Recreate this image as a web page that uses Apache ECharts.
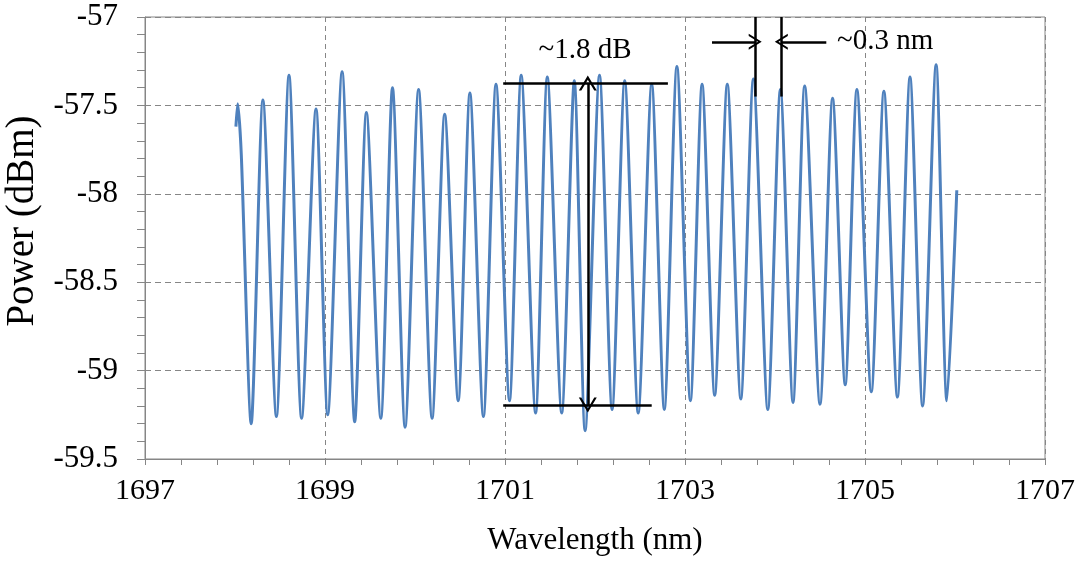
<!DOCTYPE html>
<html>
<head>
<meta charset="utf-8">
<script src="https://cdn.jsdelivr.net/npm/echarts@6/dist/echarts.min.js"></script>
<style>
html,body{margin:0;padding:0;background:#fff;}
#chart{width:1089px;height:562px;}
</style>
</head>
<body>
<div id="chart"></div>
<script>
// Wavelength (nm) of read-off points (peaks, troughs, a few shoulders)
const wavelength = [
  1698.01, 1698.03, 1698.07, 1698.18, 1698.31, 1698.46, 1698.60, 1698.74, 1698.90, 1699.03,
  1699.19, 1699.33, 1699.46, 1699.62, 1699.75, 1699.89, 1700.04, 1700.19, 1700.33, 1700.48,
  1700.61, 1700.76, 1700.90, 1701.05, 1701.18, 1701.34, 1701.47, 1701.63, 1701.77, 1701.89,
  1702.05, 1702.19, 1702.33, 1702.48, 1702.63, 1702.77, 1702.91, 1703.06, 1703.19, 1703.33,
  1703.47, 1703.62, 1703.76, 1703.92, 1704.06, 1704.20, 1704.33, 1704.50, 1704.64, 1704.78,
  1704.91, 1705.07, 1705.21, 1705.36, 1705.50, 1705.64, 1705.79, 1705.91, 1706.02
];
// Power (dBm)
const power = [
  -57.62, -57.49, -57.78, -59.30, -57.47, -59.26, -57.33, -59.27, -57.52, -59.25,
  -57.31, -59.29, -57.54, -59.27, -57.40, -59.32, -57.41, -59.27, -57.55, -59.17,
  -57.43, -59.26, -57.38, -59.17, -57.33, -59.24, -57.34, -59.24, -57.36, -59.34,
  -57.33, -59.22, -57.36, -59.24, -57.38, -59.22, -57.28, -59.17, -57.38, -59.14,
  -57.38, -59.16, -57.35, -59.22, -57.41, -59.18, -57.39, -59.19, -57.46, -59.08,
  -57.41, -59.12, -57.42, -59.15, -57.34, -59.20, -57.27, -59.17, -57.98
];
const xTicks = {min: 1697, max: 1707, interval: 2};
const yTicks = {min: -59.5, max: -57, interval: 0.5};

// Annotation values (data space)
const ampTop = -57.373, ampBottom = -59.195;
const ampLeft = 1700.98, ampTopRight = 1702.81, ampBottomRight = 1702.63, ampArrowX = 1701.92;
const ampText = '~1.8 dB', ampTextPos = [1701.89, -57.19];
const fsrLeftX = 1703.78, fsrRightX = 1704.07, fsrTop = -57.0, fsrBottom = -57.45;
const fsrArrowY = -57.14, fsrArrowLeftStart = 1703.30, fsrArrowRightStart = 1704.57;
const fsrText = '~0.3 nm', fsrTextPos = [1704.69, -57.14];

const FONT = '"Liberation Serif", "Times New Roman", serif';
const GRAY = '#868686';
const chevron = 'path://M0,10 L5,0 L10,10 L8.6,10 L5,2.8 L1.4,10 Z';

const chart = echarts.init(document.getElementById('chart'), null, {renderer: 'canvas'});
const seriesData = wavelength.map((w, i) => [w, power[i]]);

chart.setOption({
  animation: false,
  backgroundColor: '#ffffff',
  grid: {left: 145, right: 44, top: 17, bottom: 103, show: true, borderColor: GRAY, borderWidth: 1,
         containLabel: false, outerBoundsMode: 'none'},
  xAxis: {
    type: 'value', min: xTicks.min, max: xTicks.max, interval: xTicks.interval,
    name: 'Wavelength (nm)', nameLocation: 'middle', nameGap: 66,
    nameTextStyle: {fontFamily: FONT, fontSize: 31, color: '#000'},
    axisLine: {show: true, onZero: false, lineStyle: {color: GRAY, width: 1}},
    axisTick: {show: true, length: 6, lineStyle: {color: GRAY}},
    minorTick: {show: true, splitNumber: 5, length: 6, lineStyle: {color: GRAY}},
    axisLabel: {fontFamily: FONT, fontSize: 30, color: '#000', margin: 17, formatter: v => String(v)},
    splitLine: {show: true, lineStyle: {color: GRAY, type: [5, 4], width: 1}},
    minorSplitLine: {show: false}
  },
  yAxis: {
    type: 'value', min: yTicks.min, max: yTicks.max, interval: yTicks.interval,
    name: 'Power (dBm)', nameLocation: 'middle', nameGap: 89,
    nameTextStyle: {fontFamily: FONT, fontSize: 39, color: '#000', padding: [0, 0, 0, 34]},
    axisLine: {show: true, onZero: false, lineStyle: {color: GRAY, width: 1}},
    axisTick: {show: true, length: 8, lineStyle: {color: GRAY}},
    minorTick: {show: true, splitNumber: 5, length: 8, lineStyle: {color: GRAY}},
    axisLabel: {fontFamily: FONT, fontSize: 31, color: '#000', margin: 27, formatter: v => String(v)},
    splitLine: {show: true, lineStyle: {color: GRAY, type: [6, 4], width: 1}}
  },
  series: [{
    type: 'line',
    data: seriesData,
    showSymbol: false,
    smooth: 0.25,
    lineStyle: {color: '#4f81bd', width: 3},
    clip: false,
    markLine: {
      silent: true,
      symbol: 'none',
      animation: false,
      label: {show: false},
      lineStyle: {color: '#000', width: 2.5, type: 'solid'},
      data: [
        [{coord: [ampLeft, ampTop]}, {coord: [ampTopRight, ampTop]}],
        [{coord: [ampLeft, ampBottom]}, {coord: [ampBottomRight, ampBottom]}],
        [{coord: [ampArrowX, ampTop], symbol: chevron, symbolSize: [18, 15]},
         {coord: [ampArrowX, ampBottom], symbol: chevron, symbolSize: [18, 15]}],
        [{coord: [fsrLeftX, fsrTop], symbol: 'none'}, {coord: [fsrLeftX, fsrBottom], symbol: 'none'}],
        [{coord: [fsrRightX, fsrTop], symbol: 'none'}, {coord: [fsrRightX, fsrBottom], symbol: 'none'}],
        [{coord: [fsrArrowLeftStart, fsrArrowY], symbol: 'none'},
         {coord: [fsrLeftX, fsrArrowY], symbol: chevron, symbolSize: [16, 13]}],
        [{coord: [fsrArrowRightStart, fsrArrowY], symbol: 'none'},
         {coord: [fsrRightX, fsrArrowY], symbol: chevron, symbolSize: [16, 13]}]
      ]
    },
    markPoint: {
      silent: true,
      symbol: 'circle',
      symbolSize: 0,
      animation: false,
      data: [
        {name: ampText, coord: ampTextPos,
         label: {show: true, position: 'inside', formatter: '{b}', fontFamily: FONT, fontSize: 29, color: '#000'}},
        {name: fsrText, coord: fsrTextPos,
         label: {show: true, position: 'right', distance: 0, formatter: '{b}', fontFamily: FONT, fontSize: 29, color: '#000'}}
      ]
    }
  }]
});
</script>
</body>
</html>
